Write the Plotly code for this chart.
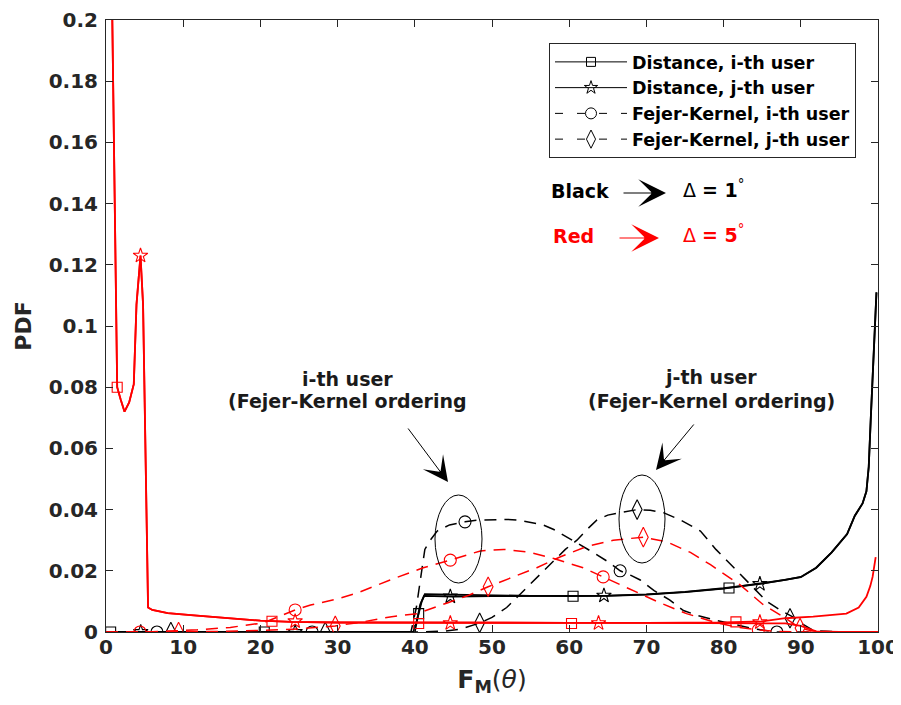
import plotly.graph_objects as go

# ---------------- data ----------------
# Delta = 1 deg (black)
bd_i_x = [0, 10, 20, 30, 39.8, 40.2, 40.5, 40.9, 41.3, 45, 50, 55, 60, 65, 70, 75, 80, 85, 88, 90, 92, 94, 96, 97, 98, 98.5, 98.8, 99.05, 99.3, 99.6, 99.8]
bd_i_y = [0, 0, 0, 0, 0, 0.003, 0.006, 0.010, 0.0124, 0.0122, 0.0120, 0.0118, 0.0117, 0.0118, 0.0122, 0.0130, 0.0142, 0.0160, 0.0170, 0.0180, 0.0210, 0.0260, 0.0320, 0.0380, 0.0420, 0.0460, 0.0540, 0.0690, 0.0820, 0.1010, 0.1110]
bd_i_mx = [0.6, 20.5, 40.5, 60.5, 80.7]
bd_i_my = [0, 0, 0.006, 0.0117, 0.0144]

bd_j_x = [0, 20, 40, 40.3, 40.7, 41.2, 45, 50, 55, 60, 65, 70, 75, 80, 85, 90, 92, 94, 96, 97, 98, 98.5, 98.8, 99.05, 99.3, 99.6, 99.8]
bd_j_y = [0, 0, 0, 0.004, 0.009, 0.0118, 0.0116, 0.0117, 0.0117, 0.0118, 0.0119, 0.0123, 0.0131, 0.0143, 0.0158, 0.0179, 0.0210, 0.0260, 0.0320, 0.0380, 0.0420, 0.0460, 0.0540, 0.0690, 0.0820, 0.1010, 0.1110]
bd_j_mx = [4.5, 24.5, 44.6, 64.5, 84.7]
bd_j_my = [0, 0, 0.0116, 0.0119, 0.0157]

bf_i_x = [0, 10, 20, 30, 39.5, 40.2, 40.7, 41.3, 42, 42.9, 44.5, 46.5, 48, 50, 52, 53.3, 55, 56.6, 58, 59.7, 61.5, 63.1, 65, 66.6, 68, 69.2, 71, 73, 74.8, 76.5, 78.7, 80.5, 82.1, 84, 86, 87, 90, 95, 100]
bf_i_y = [0, 0, 0, 0, 0, 0.008, 0.017, 0.027, 0.030, 0.033, 0.035, 0.036, 0.0365, 0.0367, 0.0368, 0.0366, 0.0358, 0.035, 0.0335, 0.031, 0.0285, 0.026, 0.023, 0.020, 0.0185, 0.017, 0.0135, 0.0105, 0.007, 0.0055, 0.004, 0.003, 0.002, 0.001, 0.0003, 0, 0, 0, 0]
bf_i_mx = [6.6, 26.7, 46.5, 66.6, 86.9]
bf_i_my = [0, 0, 0.036, 0.020, 0]

bf_j_x = [0, 10, 20, 30, 40, 44, 46, 48.5, 50, 51.9, 53.5, 55, 56.5, 58, 59.5, 61, 62.3, 63.6, 65, 66.6, 68.8, 70.5, 72.2, 74.5, 77, 79, 81.3, 83.5, 85.6, 87.3, 88.9, 90.3, 91.6, 95, 100]
bf_j_y = [0, 0, 0, 0, 0, 0.0003, 0.001, 0.003, 0.0048, 0.008, 0.012, 0.016, 0.0198, 0.0235, 0.027, 0.030, 0.0335, 0.0366, 0.0382, 0.039, 0.040, 0.0398, 0.039, 0.0365, 0.033, 0.027, 0.021, 0.0155, 0.010, 0.0072, 0.005, 0.0025, 0.0005, 0, 0]
bf_j_mx = [8.4, 28.4, 48.4, 68.8, 88.6]
bf_j_my = [0, 0, 0.003, 0.040, 0.0045]

# Delta = 5 deg (red)
rd_i_x = [0.5, 1.0, 1.2, 1.45, 1.9, 2.4, 3.0, 3.6, 3.95, 4.2, 4.47, 4.8, 5.0, 5.2, 5.45, 6, 8, 11, 14, 17.4, 20, 24, 30, 40, 50, 60, 70, 80, 85, 88, 90, 91, 92, 95, 100]
rd_i_y = [0.26, 0.16, 0.115, 0.080, 0.076, 0.072, 0.075, 0.081, 0.107, 0.115, 0.123, 0.107, 0.075, 0.042, 0.008, 0.0072, 0.0062, 0.0055, 0.0048, 0.0042, 0.0037, 0.0033, 0.0031, 0.0030, 0.0030, 0.0030, 0.0030, 0.0030, 0.0030, 0.0028, 0.0020, 0.0010, 0.0002, 0, 0]
rd_i_mx = [1.45, 21.5, 40.5, 60.3, 81.6]
rd_i_my = [0.080, 0.0035, 0.0028, 0.0028, 0.0033]

rd_j_x = [0.5, 1.0, 1.2, 1.45, 1.9, 2.4, 3.0, 3.6, 3.95, 4.2, 4.47, 4.8, 5.0, 5.2, 5.45, 6, 8, 11, 14, 17.4, 20, 24, 30, 40, 50, 60, 70, 80, 85, 88, 91.6, 94, 95.9, 97.5, 98.5, 99.0, 99.3, 99.7]
rd_j_y = [0.26, 0.16, 0.115, 0.080, 0.076, 0.072, 0.075, 0.081, 0.107, 0.115, 0.123, 0.107, 0.075, 0.042, 0.008, 0.0072, 0.0062, 0.0055, 0.0048, 0.0042, 0.0037, 0.0033, 0.0031, 0.0030, 0.0030, 0.0030, 0.0030, 0.0031, 0.0035, 0.0045, 0.0050, 0.0055, 0.0060, 0.0080, 0.0115, 0.0150, 0.0180, 0.0245]
rd_j_mx = [4.47, 24.5, 44.6, 63.8, 84.7]
rd_j_my = [0.123, 0.0035, 0.0029, 0.0029, 0.0032]

rf_i_x = [0, 5, 8, 11.8, 16.1, 20.4, 24.5, 26.5, 30, 32.5, 36.8, 41.1, 44.6, 48.5, 51.5, 55, 58, 61.8, 64.4, 67.9, 71.8, 75.2, 79.1, 82, 84.5, 87, 90, 100]
rf_i_y = [0, 0, 0.0003, 0.0007, 0.0015, 0.003, 0.0072, 0.0088, 0.0108, 0.0127, 0.017, 0.021, 0.0235, 0.0265, 0.027, 0.026, 0.024, 0.021, 0.018, 0.014, 0.0095, 0.006, 0.003, 0.0015, 0.0007, 0.0002, 0, 0]
rf_i_mx = [4.4, 24.5, 44.6, 64.4, 84.5]
rf_i_my = [0, 0.0072, 0.0235, 0.018, 0.0007]

rf_j_x = [0, 10, 15, 20, 25, 29.7, 33, 37, 40.3, 44.2, 47, 49.5, 52.8, 55.8, 58.8, 62.3, 65.7, 69.6, 72.6, 75.7, 78.3, 82.1, 85.1, 87.7, 89.9, 91.5, 95, 100]
rf_j_y = [0, 0, 0.0002, 0.0005, 0.001, 0.002, 0.0032, 0.005, 0.006, 0.0095, 0.012, 0.0148, 0.018, 0.021, 0.0245, 0.028, 0.030, 0.031, 0.0295, 0.026, 0.022, 0.0155, 0.009, 0.005, 0.0013, 0.0003, 0, 0]
rf_j_mx = [9.4, 29.7, 49.5, 69.6, 89.9]
rf_j_my = [0, 0.002, 0.0148, 0.031, 0.0013]

legend_names = ["Distance, i-th user", "Distance, j-th user",
                "Fejer-Kernel, i-th user", "Fejer-Kernel, j-th user"]
x_ticks = [0, 10, 20, 30, 40, 50, 60, 70, 80, 90, 100]
y_ticks = [0, 0.02, 0.04, 0.06, 0.08, 0.1, 0.12, 0.14, 0.16, 0.18, 0.2]
y_tick_text = ["0", "0.02", "0.04", "0.06", "0.08", "0.1", "0.12", "0.14", "0.16", "0.18", "0.2"]

# ---------------- layout helpers ----------------
# the page body adds an 8 px offset; the figure fills the rest of the window
OFF = 8
W, H = 901 - OFF, 705 - OFF
ML, MT = 106 - OFF, 20 - OFF
PW, PH = 772, 612
MR, MB = W - ML - PW, H - MT - PH


def px(x):
    """reference-window pixel x -> paper coordinate"""
    return (x - OFF - ML) / PW


def py(y):
    """reference-window pixel y -> paper coordinate"""
    return (MT + PH - (y - OFF)) / PH


FONT = "DejaVu Sans"
AX = "#262626"

fig = go.Figure()

series = [
    (bd_i_x, bd_i_y, bd_i_mx, bd_i_my, "black", "solid", "square-open", 10, 0),
    (bd_j_x, bd_j_y, bd_j_mx, bd_j_my, "black", "solid", "star-open", 11, 1),
    (bf_i_x, bf_i_y, bf_i_mx, bf_i_my, "black", "12px,8px", "circle-open", 12, 2),
    (bf_j_x, bf_j_y, bf_j_mx, bf_j_my, "black", "12px,8px", "diamond-tall-open", 14, 3),
    (rd_i_x, rd_i_y, rd_i_mx, rd_i_my, "red", "solid", "square-open", 10, None),
    (rd_j_x, rd_j_y, rd_j_mx, rd_j_my, "red", "solid", "star-open", 11, None),
    (rf_i_x, rf_i_y, rf_i_mx, rf_i_my, "red", "12px,8px", "circle-open", 12, None),
    (rf_j_x, rf_j_y, rf_j_mx, rf_j_my, "red", "12px,8px", "diamond-tall-open", 14, None),
]

for (x, y, mx, my, col, dash, sym, ms, leg) in series:
    lw = 1.8 if dash == "solid" else 1.5
    fig.add_trace(go.Scatter(x=x, y=y, mode="lines", showlegend=False,
                             line=dict(color=col, width=lw, dash=dash),
                             hoverinfo="skip"))
    fig.add_trace(go.Scatter(x=mx, y=my, mode="markers", showlegend=False,
                             marker=dict(symbol=sym, size=ms, color=col,
                                         line=dict(width=1.1, color=col)),
                             hoverinfo="skip"))

for (x, y, mx, my, col, dash, sym, ms, leg) in series:
    if leg is None:
        continue
    fig.add_trace(go.Scatter(x=[None], y=[None], mode="lines+markers",
                             name=legend_names[leg],
                             line=dict(color=col, width=1.0,
                                       dash=("solid" if dash == "solid" else "8px,14px")),
                             marker=dict(symbol=sym, size=ms - 1, color=col,
                                         line=dict(width=1.0, color=col))))

annotations = []
# colour key
annotations.append(dict(x=px(549), y=py(191), xref="paper", yref="paper", text="<b>Black</b>",
                        showarrow=False, xanchor="left", yanchor="middle",
                        font=dict(family=FONT, size=19, color="black")))
annotations.append(dict(x=px(551), y=py(236), xref="paper", yref="paper", text="<b>Red</b>",
                        showarrow=False, xanchor="left", yanchor="middle",
                        font=dict(family=FONT, size=19, color="red")))
annotations.append(dict(x=px(681), y=py(189), xref="paper", yref="paper",
                        text="Δ <b>= 1</b><sup>°</sup>",
                        showarrow=False, xanchor="left", yanchor="middle",
                        font=dict(family=FONT, size=19, color="black")))
annotations.append(dict(x=px(681), y=py(234), xref="paper", yref="paper",
                        text="Δ <b>= 5</b><sup>°</sup>",
                        showarrow=False, xanchor="left", yanchor="middle",
                        font=dict(family=FONT, size=19, color="red")))
# arrows of the key
for (x0, x1, yy, col) in [(622, 666, 193, "black"), (618, 659, 238, "red")]:
    annotations.append(dict(x=px(x1), y=py(yy), xref="paper", yref="paper", text="",
                            showarrow=True, ax=x0 - x1, ay=0, arrowhead=3, arrowsize=4.2,
                            arrowwidth=1.1, arrowcolor=col, standoff=0))
# user labels
for (cx, cy, t) in [(347, 379, "<b>i-th user</b>"), (347, 401, "<b>(Fejer-Kernel ordering</b>"),
                    (711, 377, "<b>j-th user</b>"), (711, 401, "<b>(Fejer-Kernel ordering)</b>")]:
    annotations.append(dict(x=px(cx), y=py(cy), xref="paper", yref="paper", text=t,
                            showarrow=False, xanchor="center", yanchor="middle",
                            font=dict(family=FONT, size=19, color="#1a1a1a")))
# pointing arrows
for (tx, ty, hx, hy) in [(407, 427, 448, 482), (695, 423, 656, 470)]:
    annotations.append(dict(x=px(hx), y=py(hy), xref="paper", yref="paper", text="",
                            showarrow=True, ax=tx - hx, ay=ty - hy, arrowhead=3, arrowsize=4.2,
                            arrowwidth=1.0, arrowcolor="black", standoff=0))

shapes = [
    dict(type="circle", xref="paper", yref="paper", x0=px(435), x1=px(482), y0=py(583), y1=py(495),
         line=dict(color="black", width=1)),
    dict(type="circle", xref="paper", yref="paper", x0=px(619), x1=px(665), y0=py(563), y1=py(475),
         line=dict(color="black", width=1)),
]

fig.update_layout(
    width=W, height=H, autosize=False,
    margin=dict(l=ML, r=MR, t=MT, b=MB, pad=0, autoexpand=False),
    paper_bgcolor="white", plot_bgcolor="white",
    showlegend=True,
    legend=dict(x=px(856), y=py(43), xanchor="right", yanchor="top",
                bgcolor="white", bordercolor=AX, borderwidth=1,
                font=dict(family=FONT, size=17.5, color="black", weight="bold"),
                itemwidth=72, tracegroupgap=0),
    annotations=annotations,
    shapes=shapes,
    xaxis=dict(range=[0, 100], tickvals=x_ticks, ticktext=[str(v) for v in x_ticks],
               ticks="inside", ticklen=7, tickwidth=1, tickcolor=AX,
               showline=True, linecolor=AX, linewidth=1, mirror="ticks",
               showgrid=False, zeroline=False, ticklabelstandoff=-3, automargin=False,
               tickfont=dict(family=FONT, size=20, color=AX, weight="bold"),
               title=dict(text="<b>F</b><sub><b>M</b></sub>(<i>θ</i>)", standoff=12,
                          font=dict(family=FONT, size=25, color=AX))),
    yaxis=dict(range=[0, 0.2], tickvals=y_ticks, ticktext=y_tick_text,
               ticks="inside", ticklen=7, tickwidth=1, tickcolor=AX,
               showline=True, linecolor=AX, linewidth=1, mirror="ticks",
               showgrid=False, zeroline=False, ticklabelstandoff=3, automargin=False,
               tickfont=dict(family=FONT, size=20, color=AX, weight="bold"),
               title=dict(text="<b>PDF</b>", standoff=10,
                          font=dict(family=FONT, size=22, color=AX))),
)

fig.write_html("out.html")
